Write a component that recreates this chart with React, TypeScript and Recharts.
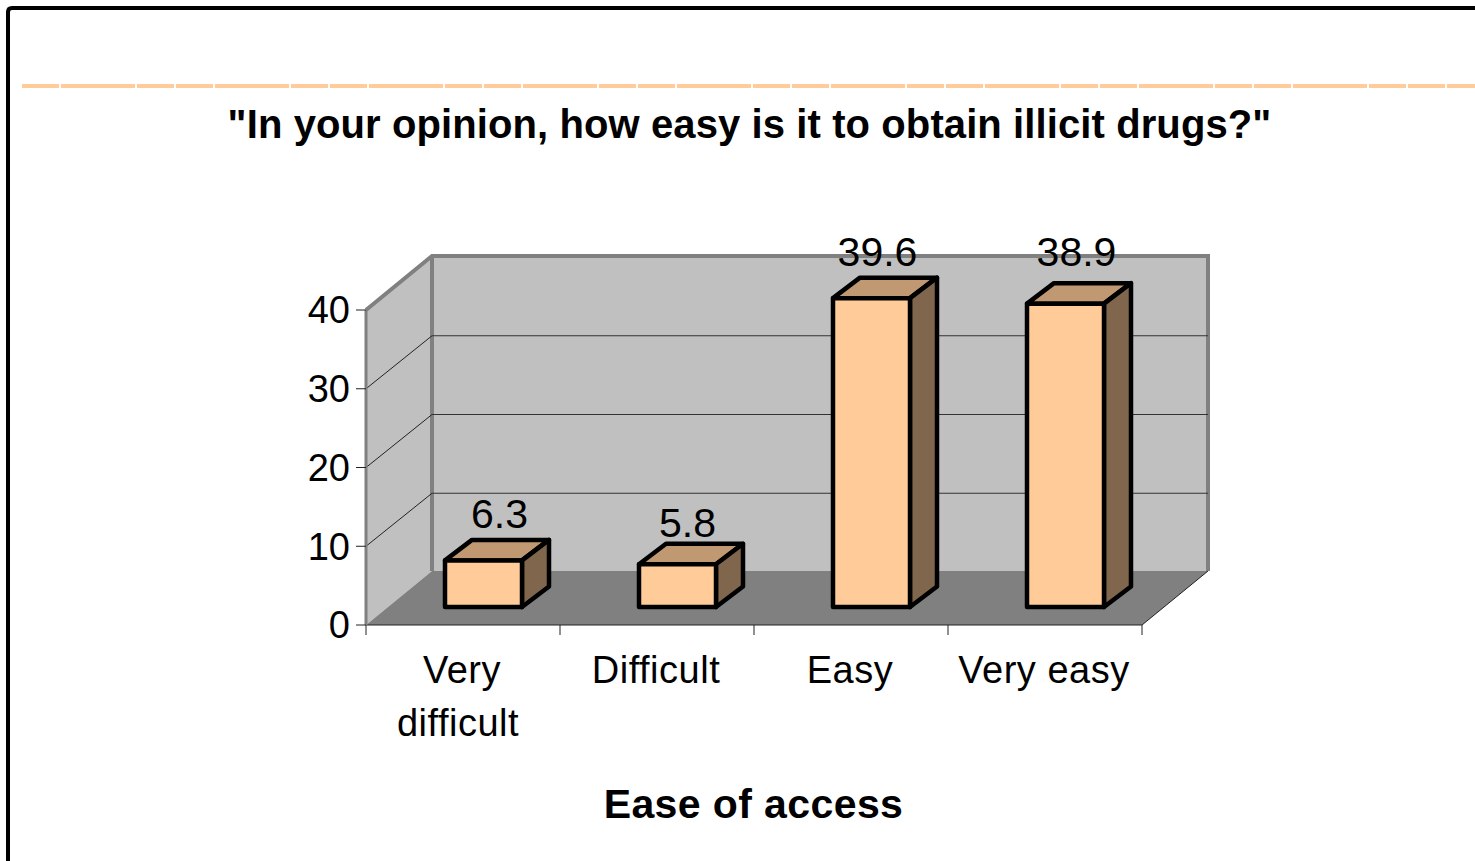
import { BarChart, Bar, XAxis, YAxis, CartesianGrid, ReferenceArea, LabelList } from 'recharts';

const categories = ['Very difficult', 'Difficult', 'Easy', 'Very easy'];
const percentages = [6.3, 5.8, 39.6, 38.9];
const yTicks = [0, 10, 20, 30, 40];
const categoryLines = [['Very', 'difficult'], ['Difficult'], ['Easy'], ['Very easy']];

const data = categories.map((name, i) => ({ name, value: percentages[i] }));

const FONT = '"Liberation Sans", Arial, sans-serif';
const WALL_DX = 66;
const WALL_DY = -54;
const BAR_DX = 20;
const BAR_DY = -18;
const BAR_TOP_INSET = 3;
const DEPTH_X = 27;
const DEPTH_Y = -20.5;
// the value labels sit a bit unevenly in the picture
const labelNudge = [[16, -29], [10, -24], [6, -29], [11, -35]];

function pts(list: number[][]) {
    return list.map((p) => p.join(',')).join(' ');
}

function Walls({ x, y, width, height }: any) {
    const bottom = y + height;
    return (
        <g>
            <polygon points={pts([[x, bottom], [x + WALL_DX, bottom + WALL_DY], [x + WALL_DX, y + WALL_DY], [x, y]])} fill="#c0c0c0" />
            <rect x={x + WALL_DX} y={y + WALL_DY} width={width} height={height} fill="#c0c0c0" />
            <polygon
                points={pts([[x, bottom], [x + width, bottom], [x + width + WALL_DX, bottom + WALL_DY], [x + WALL_DX, bottom + WALL_DY]])}
                fill="#808080"
            />
            <polyline
                points={pts([[x, y], [x + WALL_DX, y + WALL_DY], [x + width + WALL_DX, y + WALL_DY], [x + width + WALL_DX, bottom + WALL_DY]])}
                fill="none"
                stroke="#808080"
                strokeWidth={4}
            />
            <line x1={x + WALL_DX} y1={y + WALL_DY} x2={x + WALL_DX} y2={bottom + WALL_DY} stroke="#808080" strokeWidth={4} />
            <line x1={x + width} y1={bottom} x2={x + width + WALL_DX} y2={bottom + WALL_DY} stroke="#222" strokeWidth={1} />
        </g>
    );
}

function GridLine({ x1, x2, y1, y, height }: any) {
    if (y1 <= y + 1 || y1 >= y + height - 1) return <g />;
    return (
        <g>
            <line x1={x1} y1={y1} x2={x1 + WALL_DX} y2={y1 + WALL_DY + 1} stroke="#222" strokeWidth={1} />
            <line x1={x1 + WALL_DX} y1={y1 + WALL_DY + 1} x2={x2 + WALL_DX} y2={y1 + WALL_DY + 1} stroke="#333" strokeWidth={1} />
        </g>
    );
}

function Box({ x, y, width, height }: any) {
    const l = x + BAR_DX;
    const r = l + width;
    const t = y + BAR_DY + BAR_TOP_INSET;
    const b = y + BAR_DY + height;
    return (
        <g stroke="#000" strokeWidth={4.5} strokeLinejoin="round">
            <polygon points={pts([[l, t], [l + DEPTH_X, t + DEPTH_Y], [r + DEPTH_X, t + DEPTH_Y], [r, t]])} fill="#c09872" />
            <polygon points={pts([[r, t], [r + DEPTH_X, t + DEPTH_Y], [r + DEPTH_X, b + DEPTH_Y], [r, b]])} fill="#80664d" />
            <rect x={l} y={t} width={width} height={b - t} fill="#ffcc99" />
        </g>
    );
}

function ValueLabel({ x, y, width, value, index }: any) {
    const [dx, dy] = labelNudge[index];
    return (
        <text x={x + BAR_DX + width / 2 + dx} y={y + BAR_DY + dy} textAnchor="middle" fontSize={41} fontFamily={FONT} fill="#000">
            {value}
        </text>
    );
}

function CategoryTick({ x, y, payload, index }: any) {
    const half = payload.offset ?? 97;
    const lines = categoryLines[index];
    return (
        <g>
            <line x1={x - half} y1={y} x2={x - half} y2={y + 10} stroke="#222" />
            {index === categories.length - 1 && <line x1={x + half} y1={y} x2={x + half} y2={y + 10} stroke="#222" />}
            {lines.map((line, i) => (
                <text
                    key={line}
                    x={x - 1 - (i === 1 ? 4 : 0)}
                    y={y + 58 + i * 53}
                    textAnchor="middle"
                    fontSize={38}
                    letterSpacing={0.5}
                    fontFamily={FONT}
                    fill="#000"
                >
                    {line}
                </text>
            ))}
        </g>
    );
}

export default function App() {
    return (
        <div style={{ position: 'absolute', left: 0, top: 0, width: 1475, height: 861, background: '#fff', overflow: 'hidden' }}>
            <BarChart
                width={1475}
                height={861}
                data={data}
                barSize={77}
                margin={{ top: 310, right: 333, bottom: 176, left: 306 }}
            >
                <ReferenceArea y1={0} y2={40} shape={<Walls />} fill="none" stroke="none" zIndex={-200} />
                <CartesianGrid vertical={false} horizontal={(props: any) => <GridLine key={props.key} {...props} />} />
                <XAxis
                    dataKey="name"
                    interval={0}
                    height={60}
                    axisLine={{ stroke: '#222', strokeWidth: 1 }}
                    tickLine={false}
                    tickSize={0}
                    tickMargin={0}
                    tick={<CategoryTick />}
                />
                <YAxis
                    domain={[0, 40]}
                    ticks={yTicks}
                    width={60}
                    axisLine={{ stroke: '#808080', strokeWidth: 3 }}
                    tickLine={{ stroke: '#222', strokeWidth: 1 }}
                    tickSize={10}
                    tickMargin={6}
                    tick={{ fontSize: 38, fontFamily: FONT, fill: '#000' }}
                />
                <Bar dataKey="value" isAnimationActive={false} shape={<Box />}>
                    <LabelList dataKey="value" content={<ValueLabel />} />
                </Bar>
                <path d="M8 861 V12 Q8 8 12 8 H1475" fill="none" stroke="#000" strokeWidth={4} />
                <line x1={22} y1={86} x2={1475} y2={86} stroke="#ffcc99" strokeWidth={4} strokeDasharray="37 2 74 2 37 2" />
                <text x={749.5} y={138} textAnchor="middle" fontSize={40} letterSpacing={0.1} fontWeight="bold" fontFamily={FONT} fill="#000">
                    "In your opinion, how easy is it to obtain illicit drugs?"
                </text>
                <text x={753.5} y={818} textAnchor="middle" fontSize={41} letterSpacing={0.4} fontWeight="bold" fontFamily={FONT} fill="#000">
                    Ease of access
                </text>
            </BarChart>
        </div>
    );
}
